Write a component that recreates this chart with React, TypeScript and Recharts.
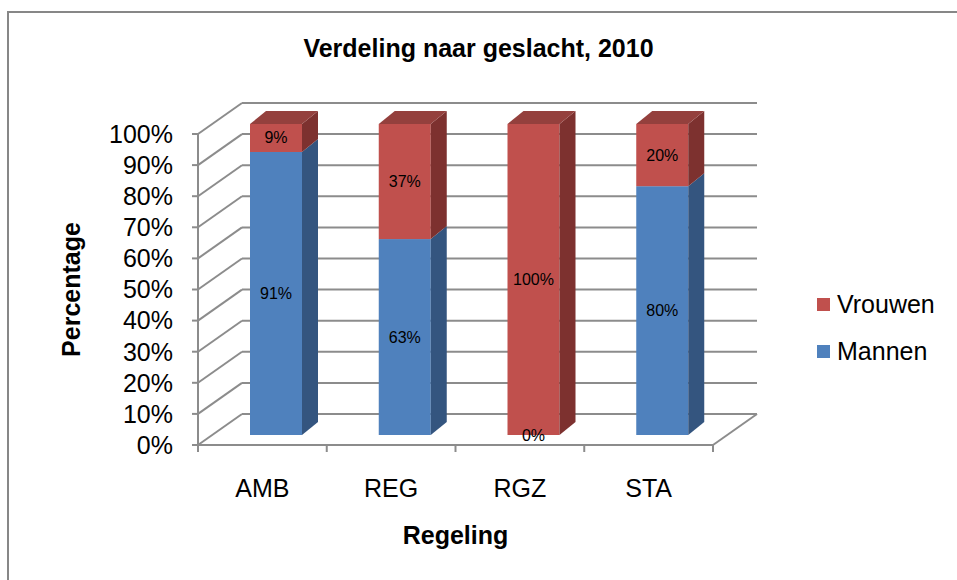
import { BarChart, Bar, XAxis, YAxis, CartesianGrid, LabelList } from 'recharts'

const categories = ['AMB', 'REG', 'RGZ', 'STA']
const mannen = [91, 63, 0, 80]
const vrouwen = [9, 37, 100, 20]
const yTicks = [0, 10, 20, 30, 40, 50, 60, 70, 80, 90, 100]

const data = categories.map((name, i) => ({ name, Mannen: mannen[i], Vrouwen: vrouwen[i] }))

const W = 957
const H = 580
// front plane of the 3d plot area
const PLOT = { left: 198, top: 134, right: 713, bottom: 445 }
const BAND = (PLOT.right - PLOT.left) / categories.length
// depth of the floor / back wall
const DEPTH = { dx: 44, dy: -31 }
// bars sit a bit behind the front plane
const BAR_SHIFT = { dx: 14, dy: -10 }
const BAR_DEPTH = { dx: 16, dy: -13 }
const FONT = '"Liberation Sans", Arial, sans-serif'
const GRID = '#8c8c8c'

const BLUE = { front: '#4F81BD', side: '#34557F', top: '#6D95C8' }
const RED = { front: '#C0504D', side: '#7D312F', top: '#94403D' }

function box3d(c: { front: string; side: string; top: string }, drawTop: boolean) {
  return (props: any) => {
    const { x, y, width, height } = props
    if (width == null || height == null || height <= 0) return <g />
    const x0 = x + BAR_SHIFT.dx
    const y0 = y + BAR_SHIFT.dy
    const { dx, dy } = BAR_DEPTH
    const x1 = x0 + width
    const y1 = y0 + height
    return (
      <g>
        <rect x={x0} y={y0} width={width} height={height} fill={c.front} />
        <polygon points={`${x1},${y0} ${x1 + dx},${y0 + dy} ${x1 + dx},${y1 + dy} ${x1},${y1}`} fill={c.side} />
        {drawTop && (
          <polygon points={`${x0},${y0} ${x0 + dx},${y0 + dy} ${x1 + dx},${y0 + dy} ${x1},${y0}`} fill={c.top} />
        )}
      </g>
    )
  }
}

const SegmentLabel = (props: any) => {
  const { x, y, width, height, value } = props
  return (
    <text
      x={x + width / 2 + BAR_SHIFT.dx}
      y={y + height / 2 + BAR_SHIFT.dy}
      textAnchor="middle"
      dominantBaseline="central"
      fontSize={16}
      fontFamily={FONT}
      fill="#000"
    >
      {value}%
    </text>
  )
}

const gridLine = (props: any) => {
  const { x1, y1, x2 } = props
  const isFloor = Math.abs(y1 - PLOT.bottom) < 1
  return (
    <g key={`g-${y1}`}>
      <line x1={x1} y1={y1} x2={x1 + DEPTH.dx} y2={y1 + DEPTH.dy} stroke={GRID} strokeWidth={2} />
      <line x1={x1 + DEPTH.dx} y1={y1 + DEPTH.dy} x2={x2 + DEPTH.dx} y2={y1 + DEPTH.dy} stroke={GRID} strokeWidth={2} />
      {isFloor && (
        <line x1={x2} y1={y1} x2={x2 + DEPTH.dx} y2={y1 + DEPTH.dy} stroke={GRID} strokeWidth={2} />
      )}
    </g>
  )
}

const CategoryTick = (props: any) => {
  const { x, payload, index } = props
  const left = x - BAND / 2
  return (
    <g>
      <line x1={left} y1={PLOT.bottom} x2={left} y2={PLOT.bottom + 7} stroke={GRID} strokeWidth={2} />
      {index === categories.length - 1 && (
        <line x1={x + BAND / 2} y1={PLOT.bottom} x2={x + BAND / 2} y2={PLOT.bottom + 7} stroke={GRID} strokeWidth={2} />
      )}
      <text x={x} y={PLOT.bottom + 52} textAnchor="middle" fontSize={25} fontFamily={FONT} fill="#000">
        {payload.value}
      </text>
    </g>
  )
}

export default function App() {
  const legend = [
    { name: 'Vrouwen', color: RED.front },
    { name: 'Mannen', color: BLUE.front },
  ]
  return (
    <div style={{ position: 'absolute', left: 0, top: 0, width: W, height: H, background: '#fff', overflow: 'hidden', fontFamily: FONT }}>
      <div style={{ position: 'absolute', left: 7, top: 11, width: W, height: H, border: '2px solid #878787' }} />
      <div style={{ position: 'absolute', left: 0, top: 36, width: W, textAlign: 'center', fontSize: 25, fontWeight: 'bold', lineHeight: '25px' }}>
        Verdeling naar geslacht, 2010
      </div>
      <BarChart
        width={W}
        height={H}
        data={data}
        margin={{ top: PLOT.top, right: W - PLOT.right, left: PLOT.left - 80, bottom: H - PLOT.bottom - 60 }}
        barSize={52}
        style={{ position: 'absolute', left: 0, top: 0 }}
      >
        <CartesianGrid vertical={false} horizontal={gridLine} />
        <XAxis
          dataKey="name"
          height={60}
          axisLine={{ stroke: GRID, strokeWidth: 2 }}
          tickLine={false}
          tickSize={0}
          tick={CategoryTick}
          interval={0}
          label={{
            value: 'Regeling',
            content: () => (
              <text x={(PLOT.left + PLOT.right) / 2} y={544} textAnchor="middle" fontSize={25} fontWeight="bold" fontFamily={FONT} fill="#000">
                Regeling
              </text>
            ),
          }}
        />
        <YAxis
          width={80}
          domain={[0, 100]}
          ticks={yTicks}
          interval={0}
          tickFormatter={(v) => `${v}%`}
          axisLine={{ stroke: GRID, strokeWidth: 2 }}
          tickLine={{ stroke: GRID, strokeWidth: 2 }}
          tickSize={6}
          tickMargin={19}
          tick={{ fontSize: 25, fontFamily: FONT, fill: '#000' }}
          label={{
            value: 'Percentage',
            content: () => (
              <text
                transform={`translate(80, ${(PLOT.top + PLOT.bottom) / 2}) rotate(-90)`}
                textAnchor="middle"
                fontSize={25}
                fontWeight="bold"
                fontFamily={FONT}
                fill="#000"
              >
                Percentage
              </text>
            ),
          }}
        />
        <Bar dataKey="Mannen" stackId="a" shape={box3d(BLUE, false)} isAnimationActive={false}>
          <LabelList dataKey="Mannen" content={SegmentLabel} />
        </Bar>
        <Bar dataKey="Vrouwen" stackId="a" shape={box3d(RED, true)} isAnimationActive={false}>
          <LabelList dataKey="Vrouwen" content={SegmentLabel} />
        </Bar>
      </BarChart>
      {legend.map((l, i) => (
        <div key={l.name} style={{ position: 'absolute', left: 817, top: 290 + i * 47, height: 28, display: 'flex', alignItems: 'center' }}>
          <div style={{ width: 13, height: 13, background: l.color, marginRight: 7 }} />
          <span style={{ fontSize: 25, lineHeight: '28px' }}>{l.name}</span>
        </div>
      ))}
    </div>
  )
}
